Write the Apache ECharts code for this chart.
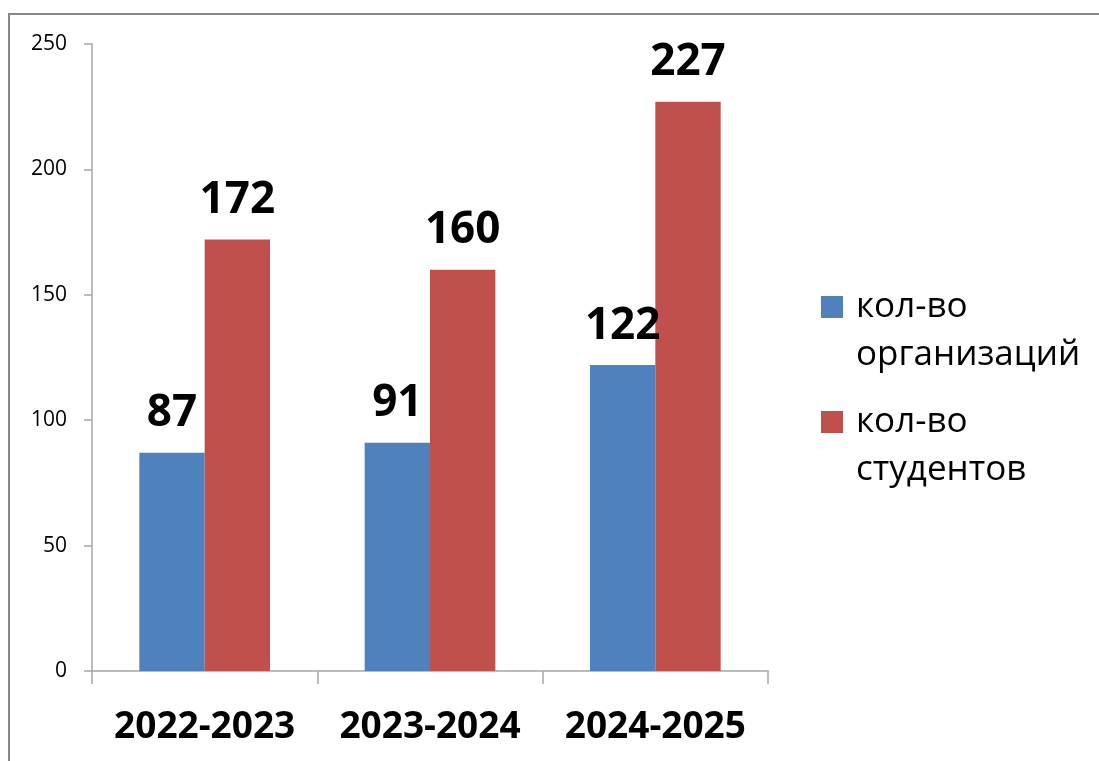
<!DOCTYPE html>
<html>
<head>
<meta charset="utf-8">
<script src="https://cdn.jsdelivr.net/npm/echarts@6/dist/echarts.min.js"></script>
<style>
  html, body { margin: 0; padding: 0; background: #fff; }
  #chart { width: 1099px; height: 761px; }
</style>
</head>
<body>
<div id="chart"></div>
<script>
// данные
var years = ["2022-2023", "2023-2024", "2024-2025"];
var orgs = [87, 91, 122];
var students = [172, 160, 227];
var seriesNames = ["кол-во организаций", "кол-во студентов"];
var yTicks = [0, 50, 100, 150, 200, 250];

var myChart = echarts.init(document.getElementById("chart"));
var font = "'Open Sans', 'DejaVu Sans', sans-serif";

var labelStyle = {
  show: true,
  position: "top",
  distance: 17,
  fontFamily: font,
  fontSize: 44,
  fontWeight: "bold",
  color: "#000"
};

myChart.setOption({
  backgroundColor: "#fff",
  animation: false,
  textStyle: { fontFamily: font },
  graphic: [
    {
      type: "rect",
      shape: { x: 9, y: 14, width: 1200, height: 900 },
      style: { fill: "none", stroke: "#878787", lineWidth: 2 },
      silent: true
    }
  ],
  grid: { left: 92, right: 331, top: 44, bottom: 90, containLabel: false },
  legend: {
    orient: "vertical",
    left: 816,
    top: 230,
    itemWidth: 22,
    itemHeight: 22,
    itemGap: -29,
    icon: "rect",
    data: seriesNames,
    // пустая строка сверху, чтобы значок стоял у первой строки
    formatter: function (name) {
      return " \n" + name.replace(" ", "\n");
    },
    textStyle: {
      fontFamily: font,
      fontSize: 35,
      color: "#000",
      lineHeight: 48,
      padding: [0, 0, 0, 8]
    }
  },
  xAxis: {
    type: "category",
    data: years,
    axisLine: { lineStyle: { color: "#a6a6a6", width: 1.5 } },
    axisTick: { show: true, length: 13, inside: false, lineStyle: { color: "#a6a6a6", width: 1.5 } },
    axisLabel: {
      interval: 0,
      fontFamily: font,
      fontSize: 37,
      fontWeight: "bold",
      color: "#000",
      margin: 38
    }
  },
  yAxis: {
    type: "value",
    min: yTicks[0],
    max: yTicks[yTicks.length - 1],
    interval: 50,
    splitLine: { show: false },
    axisLine: { show: true, lineStyle: { color: "#a6a6a6", width: 1.5 } },
    axisTick: { show: true, length: 8, lineStyle: { color: "#a6a6a6", width: 1.5 } },
    axisLabel: { fontFamily: font, fontSize: 21, color: "#000", margin: 25 }
  },
  series: [
    {
      name: seriesNames[0],
      type: "bar",
      data: orgs,
      barGap: "0%",
      barCategoryGap: "42%",
      itemStyle: { color: "#4f81bd" },
      label: labelStyle
    },
    {
      name: seriesNames[1],
      type: "bar",
      data: students,
      barGap: "0%",
      barCategoryGap: "42%",
      itemStyle: { color: "#c0504d" },
      label: labelStyle
    }
  ]
});
</script>
</body>
</html>
